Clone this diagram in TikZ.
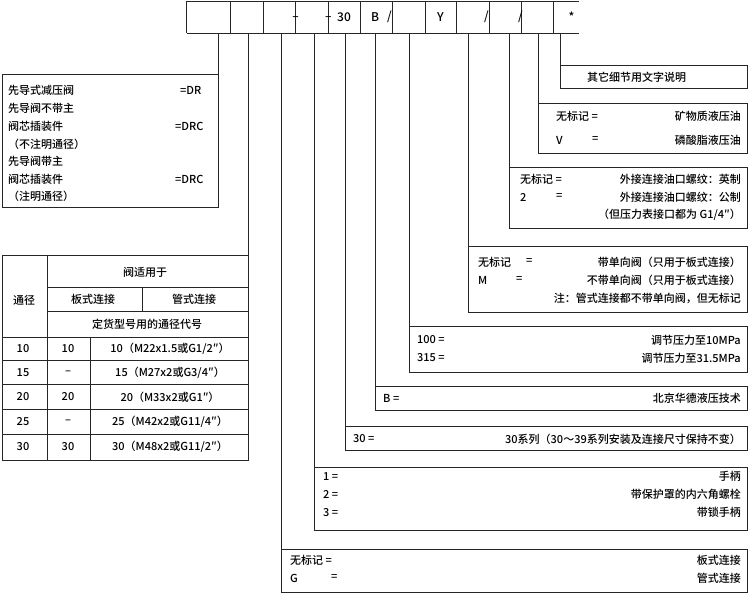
\documentclass[tikz,border=0pt]{standalone}
\usepackage{fontspec}
\setmainfont{Noto Sans CJK SC}[UprightFont=* Medium]

\begin{document}
\begin{tikzpicture}[x=1pt,y=-1pt]
\tikzset{
  rule/.style={draw=black!85,line width=0.9pt},
  link/.style={draw=black!85,line width=0.9pt},
  box/.style={draw=black!85,line width=0.9pt,inner sep=0pt,outer sep=0pt,anchor=north west},
  txt/.style={inner sep=0pt,font=\fontsize{11}{13}\selectfont},
  ltxt/.style={txt,anchor=west},
  rtxt/.style={txt,anchor=east},
  htxt/.style={inner sep=0pt,font=\fontsize{12}{14}\selectfont}
}
\useasboundingbox (0,0) rectangle (750,594);
% header row
\draw[rule] (186.7,1) -- (579,1);
\draw[rule] (186.7,33) -- (579,33);
\draw[rule] (186.7,1) -- (186.7,33);
\draw[rule] (230.7,1) -- (230.7,33);
\draw[rule] (263.3,1) -- (263.3,33);
\draw[rule] (295.7,1) -- (295.7,33);
\draw[rule] (328.3,1) -- (328.3,33);
\draw[rule] (360.3,1) -- (360.3,33);
\draw[rule] (392.7,1) -- (392.7,33);
\draw[rule] (425.0,1) -- (425.0,33);
\draw[rule] (456.7,1) -- (456.7,33);
\draw[rule] (489.0,1) -- (489.0,33);
\draw[rule] (521.0,1) -- (521.0,33);
\draw[rule] (553.3,1) -- (553.3,33);
\node[htxt] (h_d1) at (295.7,18.5) {–};
\node[htxt] (h_d2) at (328.3,18.5) {–};
\node[htxt] (h_30) at (344,17) {30};
\node[htxt] (h_B) at (375,17) {B};
\node[htxt] (h_s1) at (389.5,17) {/};
\node[htxt] (h_Y) at (440.5,17) {Y};
\node[htxt] (h_s2) at (486.5,17) {/};
\node[htxt] (h_s3) at (520.5,17) {/};
\node[htxt] (h_star) at (571.5,17) {*};
% tap points under the header
\coordinate (t_DR) at (218,33);
\coordinate (t_tab) at (248,33);
\coordinate (t_G) at (281,33);
\coordinate (t_1) at (314,33);
\coordinate (t_30) at (345.5,33);
\coordinate (t_B) at (375,33);
\coordinate (t_100) at (409,33);
\coordinate (t_M) at (468.5,33);
\coordinate (t_2) at (509,33);
\coordinate (t_V) at (538.5,33);
\coordinate (t_note) at (560,33);
% left box
\node[box,anchor=north east,minimum width=216pt,minimum height=133pt] (b_DR) at (218,74) {};
\node[ltxt] (l_1) at (8,90) {先导式减压阀};
\node[ltxt] (l_2) at (8,108) {先导阀不带主};
\node[ltxt] (l_3) at (8,126) {阀芯插装件};
\node[ltxt] (l_4) at (8,144) {（不注明通径）};
\node[ltxt] (l_5) at (8,161.5) {先导阀带主};
\node[ltxt] (l_6) at (8,179) {阀芯插装件};
\node[ltxt] (l_7) at (8,196.5) {（注明通径）};
\node[ltxt] (l_DR) at (180,90) {=DR};
\node[ltxt] (l_DRC1) at (175,126) {=DRC};
\node[ltxt] (l_DRC2) at (175,179) {=DRC};
% table
\node[box,anchor=north east,minimum width=246pt,minimum height=205pt] (tab) at (248,255) {};
\draw[rule] (47,255) -- (47,460);
\draw[rule] (47,287) -- (248,287);
\draw[rule] (47,311) -- (248,311);
\draw[rule] (142,287) -- (142,311);
\draw[rule] (2,337) -- (248,337);
\draw[rule] (90,337) -- (90,460);
\draw[rule] (2,360) -- (248,360);
\draw[rule] (2,384) -- (248,384);
\draw[rule] (2,409) -- (248,409);
\draw[rule] (2,434) -- (248,434);
\node[txt] (tab_dn) at (24,300) {通径};
\node[txt] (tab_use) at (145,272) {阀适用于};
\node[txt] (tab_plate) at (93,299) {板式连接};
\node[txt] (tab_pipe) at (194,299) {管式连接};
\node[txt] (tab_code) at (147,324) {定货型号用的通径代号};
\node[txt] (r10_a) at (23,348.5) {10};
\node[txt] (r10_b) at (68,348.5) {10};
\node[txt] (r10_c) at (170,348.5) {10（M22x1.5或G1/2″）};
\node[txt] (r15_a) at (23,372.5) {15};
\node[txt] (r15_b) at (68,372.5) {–};
\node[txt] (r15_c) at (170,372.5) {15（M27x2或G3/4″）};
\node[txt] (r20_a) at (23,397) {20};
\node[txt] (r20_b) at (68,397) {20};
\node[txt] (r20_c) at (170,397) {20（M33x2或G1″）};
\node[txt] (r25_a) at (23,422) {25};
\node[txt] (r25_b) at (68,422) {–};
\node[txt] (r25_c) at (170,422) {25（M42x2或G11/4″）};
\node[txt] (r30_a) at (23,447) {30};
\node[txt] (r30_b) at (68,447) {30};
\node[txt] (r30_c) at (170,447) {30（M48x2或G11/2″）};
% right boxes
\node[box,minimum width=187pt,minimum height=22.6pt] (b_note) at (560,65.7) {};
\node[ltxt] (note_txt) at (587,77) {其它细节用文字说明};
\node[box,minimum width=208.5pt,minimum height=50pt] (b_V) at (538.5,103) {};
\node[ltxt] (V_k1) at (556,116) {无标记 =};
\node[ltxt] (V_k2) at (556,140) {V};
\node[ltxt] (V_e2) at (592,140) {=};
\node[rtxt] (V_v1) at (741,116) {矿物质液压油};
\node[rtxt] (V_v2) at (741,140) {磷酸脂液压油};
\node[box,minimum width=238pt,minimum height=61pt] (b_2) at (509,167) {};
\node[ltxt] (s2_k1) at (520,179) {无标记 =};
\node[ltxt] (s2_k2) at (520,197) {2};
\node[ltxt] (s2_e2) at (556,197) {=};
\node[rtxt] (s2_v1) at (741,179) {外接连接油口螺纹：英制};
\node[rtxt] (s2_v2) at (741,197) {外接连接油口螺纹：公制};
\node[rtxt] (s2_v3) at (741,215) {（但压力表接口都为 G1/4″）};
\node[box,minimum width=278.5pt,minimum height=66pt] (b_M) at (468.5,246.5) {};
\node[ltxt] (M_k1) at (478,262) {无标记};
\node[ltxt] (M_e1) at (526,262) {=};
\node[ltxt] (M_k2) at (478,280) {M};
\node[ltxt] (M_e2) at (516,280) {=};
\node[rtxt] (M_v1) at (741,262) {带单向阀（只用于板式连接）};
\node[rtxt] (M_v2) at (741,280) {不带单向阀（只用于板式连接）};
\node[rtxt] (M_v3) at (741,298) {注：管式连接都不带单向阀，但无标记};
\node[box,minimum width=338pt,minimum height=46.5pt] (b_100) at (409,326.3) {};
\node[ltxt] (p_k1) at (417,340) {100 =};
\node[ltxt] (p_k2) at (417,358) {315 =};
\node[rtxt] (p_v1) at (741,340) {调节压力至10MPa};
\node[rtxt] (p_v2) at (741,358) {调节压力至31.5MPa};
\node[box,minimum width=372pt,minimum height=24pt] (b_B) at (375,386.7) {};
\node[ltxt] (B_k) at (383,398.5) {B =};
\node[rtxt] (B_v) at (741,398.5) {北京华德液压技术};
\node[box,minimum width=401.5pt,minimum height=24pt] (b_30) at (345.5,426.7) {};
\node[ltxt] (s30_k) at (353,439) {30 =};
\node[rtxt] (s30_v) at (741,439) {30系列（30～39系列安装及连接尺寸保持不变）};
\node[box,minimum width=433pt,minimum height=62.7pt] (b_1) at (314,467.3) {};
\node[ltxt] (h_k1) at (323,476.7) {1 =};
\node[ltxt] (h_k2) at (323,494.7) {2 =};
\node[ltxt] (h_k3) at (323,512.7) {3 =};
\node[rtxt] (h_v1) at (741,476.7) {手柄};
\node[rtxt] (h_v2) at (741,494.7) {带保护罩的内六角螺栓};
\node[rtxt] (h_v3) at (741,512.7) {带锁手柄};
\node[box,minimum width=466pt,minimum height=43pt] (b_G) at (281,549) {};
\node[ltxt] (G_k1) at (290,560) {无标记 =};
\node[ltxt] (G_k2) at (290,578) {G};
\node[ltxt] (G_e2) at (331,578) {=};
\node[rtxt] (G_v1) at (741,560) {板式连接};
\node[rtxt] (G_v2) at (741,578) {管式连接};
% leader lines
\draw[link] (t_DR) -- (b_DR.north east);
\draw[link] (t_tab) -- (tab.north east);
\draw[link] (t_G) -- (b_G.north west);
\draw[link] (t_1) -- (b_1.north west);
\draw[link] (t_30) -- (b_30.north west);
\draw[link] (t_B) -- (b_B.north west);
\draw[link] (t_100) -- (b_100.north west);
\draw[link] (t_M) -- (b_M.north west);
\draw[link] (t_2) -- (b_2.north west);
\draw[link] (t_V) -- (b_V.north west);
\draw[link] (t_note) -- (b_note.north west);
\end{tikzpicture}
\end{document}
